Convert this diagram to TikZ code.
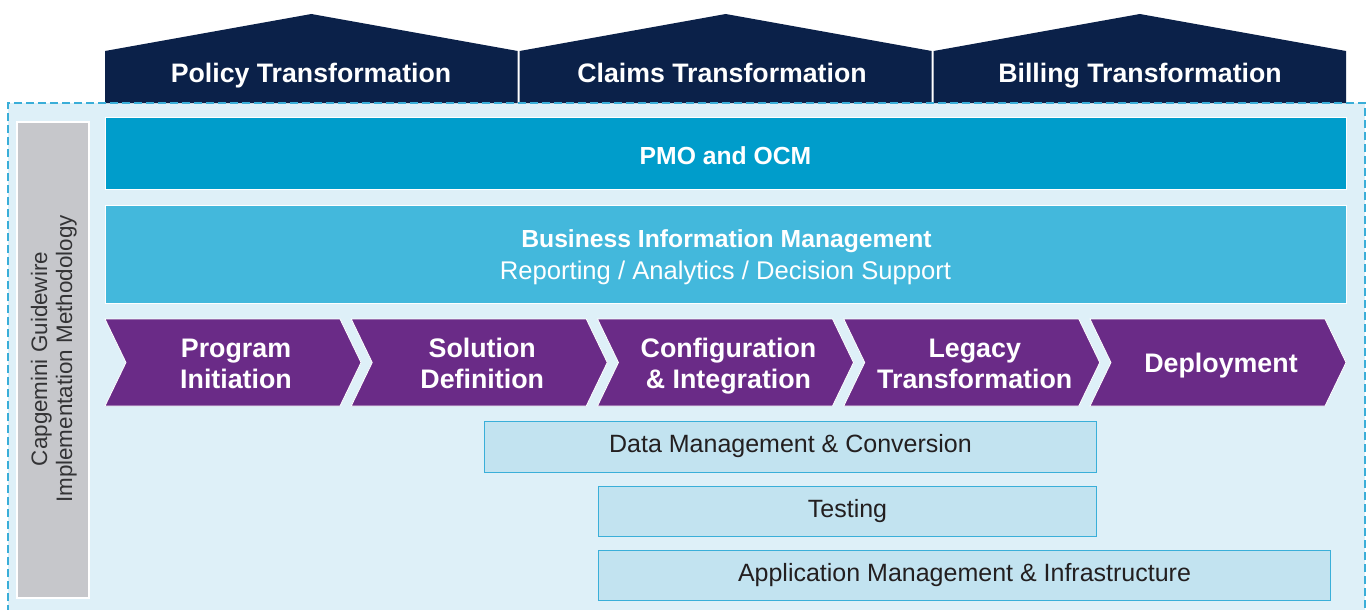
\documentclass[tikz,border=0pt]{standalone}
\usepackage{fontspec}
\setmainfont{Liberation Sans}
\definecolor{navy}{HTML}{0B2149}
\definecolor{pmoblue}{HTML}{009DCB}
\definecolor{bimblue}{HTML}{43B8DC}
\definecolor{chevpurple}{HTML}{6A2B87}
\definecolor{bgblue}{HTML}{DEF0F8}
\definecolor{boxfill}{HTML}{C2E3F0}
\definecolor{boxline}{HTML}{3AAFD9}
\definecolor{graybox}{HTML}{C6C7CB}
\definecolor{dashcol}{HTML}{3AAED8}
\definecolor{darktext}{HTML}{231F20}
\definecolor{graytext}{HTML}{333335}
\begin{document}
\begin{tikzpicture}[x=1pt,y=-1pt,
  hdrshape/.style={fill=navy},
  hdrtext/.style={text=white,font=\fontsize{26.7}{31}\selectfont\bfseries,inner sep=0,anchor=base},
  chevshape/.style={fill=chevpurple,draw=white,line width=0.8pt},
  chevtext/.style={text=white,font=\fontsize{26.8}{31}\selectfont\bfseries,inner sep=0,align=center},
  bandbox/.style={draw=white,line width=1pt,inner sep=0,anchor=north west},
  bandbold/.style={text=white,font=\fontsize{24.7}{30}\selectfont\bfseries,inner sep=0,anchor=base},
  bandreg/.style={text=white,font=\fontsize{25.6}{30}\selectfont,inner sep=0,anchor=base},
  lowbox/.style={draw=boxline,fill=boxfill,line width=1pt,inner sep=0,anchor=north west,
    text=darktext,font=\fontsize{25}{30}\selectfont,text height=18pt,text depth=7pt},
  sidetext/.style={text=graytext,font=\fontsize{22.4}{25}\selectfont,inner sep=0,align=center,rotate=90}]
\useasboundingbox (0,0) rectangle (1371,610);
\fill[white] (0,0) rectangle (1371,610);
% frame background
\fill[bgblue] (8,103) rectangle (1365,625);
% header pentagons
\foreach \xa/\xb in {105/517.7, 519.7/931.7, 933.7/1346}{
  \fill[navy] (\xa,103) -- (\xa,51) -- ({(\xa+\xb)/2},14) -- (\xb,51) -- (\xb,103) -- cycle;
}
\node[hdrtext] (policy) at (311,83) {Policy Transformation};
\node[hdrtext] (claims) at (722,83) {Claims Transformation};
\node[hdrtext] (billing) at (1140,83) {Billing Transformation};
% dashed frame
\draw[dashcol,line width=1.3pt,dash pattern=on 8pt off 4pt] (8,625) -- (8,103) -- (1365,103) -- (1365,625);
% side label
\draw[white,line width=2pt,fill=graybox] (17,122) rectangle (89,598);
\node[sidetext] (side) at (54.5,359) {\strut Capgemini Guidewire\\Implementation Methodology\strut};
% PMO band
\node[bandbox,fill=pmoblue,minimum width=1241pt,minimum height=72pt] (pmo) at (105,117) {};
\node[bandbold] (pmotext) at (725.5,164) {PMO and OCM};
% BIM band
\node[bandbox,fill=bimblue,minimum width=1241pt,minimum height=98pt] (bim) at (105,205) {};
\node[bandbold] (bimtitle) at (726.5,247) {Business Information Management};
\node[bandreg] (bimsub) at (725.5,279) {Reporting / Analytics / Decision Support};
% chevrons
\foreach \i/\txt in {0/{\strut Program\\Initiation\strut},
                     1/{\strut Solution\\Definition\strut},
                     2/{\strut Configuration\\\& Integration\strut},
                     3/{\strut Legacy\\Transformation\strut},
                     4/{\strut Deployment\strut}}{
  \pgfmathsetmacro\L{105+246.25*\i}
  \draw[chevshape] (\L,319) -- ({\L+235},319) -- ({\L+256},362.5) -- ({\L+235},406)
     -- (\L,406) -- ({\L+21},362.5) -- cycle;
  \node[chevtext] (chev\i) at ({\L+131},366.5) {\txt};
}
% lower boxes
\node[lowbox,minimum width=612pt,minimum height=51pt] (data) at (484,421) {Data Management \& Conversion};
\node[lowbox,minimum width=498pt,minimum height=50pt] (testing) at (598,486) {Testing};
\node[lowbox,minimum width=732pt,minimum height=50pt] (appmgmt) at (598,550) {Application Management \& Infrastructure};
\end{tikzpicture}
\end{document}
